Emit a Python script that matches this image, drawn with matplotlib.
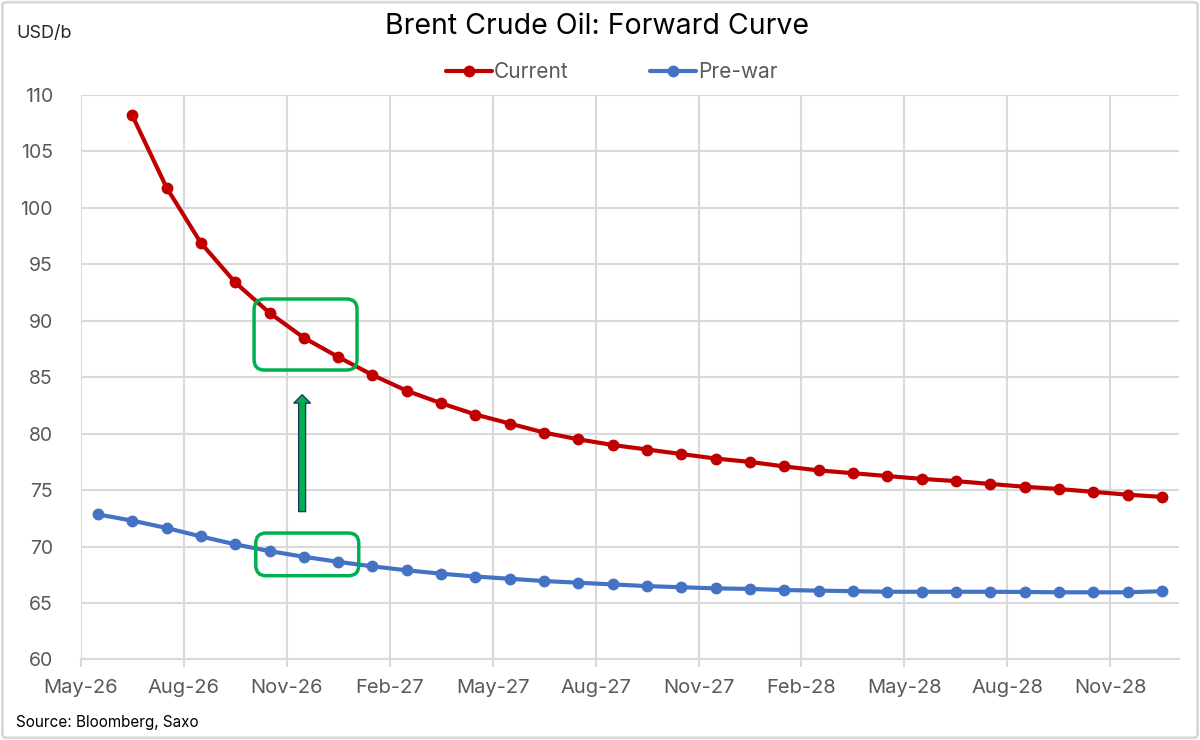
import matplotlib
matplotlib.use("Agg")
import matplotlib.pyplot as plt
from matplotlib.patches import FancyBboxPatch, FancyArrowPatch

# ---- data ----
months = ["May-26", "Jun-26", "Jul-26", "Aug-26", "Sep-26", "Oct-26", "Nov-26", "Dec-26",
          "Jan-27", "Feb-27", "Mar-27", "Apr-27", "May-27", "Jun-27", "Jul-27", "Aug-27",
          "Sep-27", "Oct-27", "Nov-27", "Dec-27", "Jan-28", "Feb-28", "Mar-28", "Apr-28",
          "May-28", "Jun-28", "Jul-28", "Aug-28", "Sep-28", "Oct-28", "Nov-28", "Dec-28"]

current_months = months[1:]
current = [108.2, 101.8, 96.9, 93.4, 90.7, 88.5, 86.8, 85.2, 83.8, 82.7, 81.7, 80.9,
           80.1, 79.5, 79.0, 78.6, 78.2, 77.8, 77.5, 77.1, 76.75, 76.5, 76.25, 76.0,
           75.8, 75.55, 75.3, 75.1, 74.85, 74.6, 74.4]

prewar_months = months
prewar = [72.85, 72.3, 71.65, 70.9, 70.2, 69.6, 69.1, 68.65, 68.25, 67.9, 67.6, 67.35,
          67.15, 66.95, 66.8, 66.65, 66.5, 66.4, 66.3, 66.25, 66.15, 66.1, 66.05, 66.0,
          66.0, 66.0, 66.0, 65.98, 65.95, 65.95, 65.95, 66.05]

tick_labels = ["May-26", "Aug-26", "Nov-26", "Feb-27", "May-27", "Aug-27",
               "Nov-27", "Feb-28", "May-28", "Aug-28", "Nov-28"]
yticks = [60, 65, 70, 75, 80, 85, 90, 95, 100, 105, 110]

RED = "#C00000"
BLUE = "#4472C4"
GREEN = "#00B050"
GRID = "#D9D9D9"
TXT = "#595959"
FONT = ["Inter", "DejaVu Sans"]

plt.rcParams["font.family"] = FONT

fig = plt.figure(figsize=(12, 7.4), dpi=100)
ax = fig.add_axes([0.0673, 0.1088, 0.9152, 0.7628])


def pos(m):
    # Excel date axis, points between tick marks (middle of month slot)
    return months.index(m) + 0.5


xc = [pos(m) for m in current_months]
xp = [pos(m) for m in prewar_months]

ax.plot(xc, current, color=RED, lw=3.0, marker="o", ms=7.5, label="Current",
        solid_capstyle="round", zorder=4)
ax.plot(xp, prewar, color=BLUE, lw=3.0, marker="o", ms=7.5, label="Pre-war",
        solid_capstyle="round", zorder=4)

ax.set_xlim(0, len(months))
ax.set_ylim(60, 110)
ax.set_xticks([months.index(t) for t in tick_labels])
ax.set_xticklabels(tick_labels)
ax.set_yticks(yticks)
ax.set_yticklabels([str(v) for v in yticks])

ax.grid(True, color=GRID, lw=1.5, zorder=0)
ax.set_axisbelow(True)
for s in ["top", "right", "left"]:
    ax.spines[s].set_visible(False)
ax.spines["bottom"].set_color(GRID)
ax.spines["bottom"].set_linewidth(1.5)
ax.tick_params(axis="x", length=6, width=1.5, color=GRID, labelsize=14.5,
               labelcolor=TXT, pad=8)
ax.tick_params(axis="y", length=0, labelsize=14, labelcolor=TXT, pad=20)

# annotations: green rounded boxes
aspect = 34.33 / 11.29
for (x0, x1, y0, y1) in [(5.05, 8.05, 85.64, 91.93), (5.1, 8.1, 67.42, 71.2)]:
    bx = FancyBboxPatch((x0, y0), x1 - x0, y1 - y0,
                        boxstyle="round,pad=0,rounding_size=0.3",
                        mutation_aspect=aspect,
                        fc="none", ec=GREEN, lw=2.5, zorder=5, transform=ax.transData)
    ax.add_patch(bx)

arrow = FancyArrowPatch((6.45, 73.1), (6.45, 83.45),
                        arrowstyle="Simple,tail_width=5,head_width=12,head_length=6",
                        mutation_scale=1, fc=GREEN, ec="#1F3864", lw=1.0,
                        shrinkA=0, shrinkB=0, zorder=5)
ax.add_patch(arrow)

# texts
fig.text(0.4975, 1 - 27 / 740, "Brent Crude Oil: Forward Curve", ha="center", va="center",
         fontsize=20.5, color="#000000")
fig.text(16 / 1200, 1 - 33 / 740, "USD/b", ha="left", va="center", fontsize=13,
         color="#262626")
fig.text(16 / 1200, 1 - 722 / 740, "Source: Bloomberg, Saxo", ha="left", va="center",
         fontsize=11, color="#000000")

leg = fig.legend(loc="center", bbox_to_anchor=(0.51, 1 - 72 / 740), ncol=2, frameon=False,
                 fontsize=15, handlelength=2.2, handletextpad=0.1, columnspacing=3.9,
                 labelcolor=TXT)

# outer chart border
fig.patches.append(FancyBboxPatch((0.002, 0.003), 0.996, 0.994,
                                  boxstyle="round,pad=0,rounding_size=0.004",
                                  transform=fig.transFigure, fc="none", ec=GRID, lw=2))

fig.savefig("out.png", dpi=100, facecolor="white")
